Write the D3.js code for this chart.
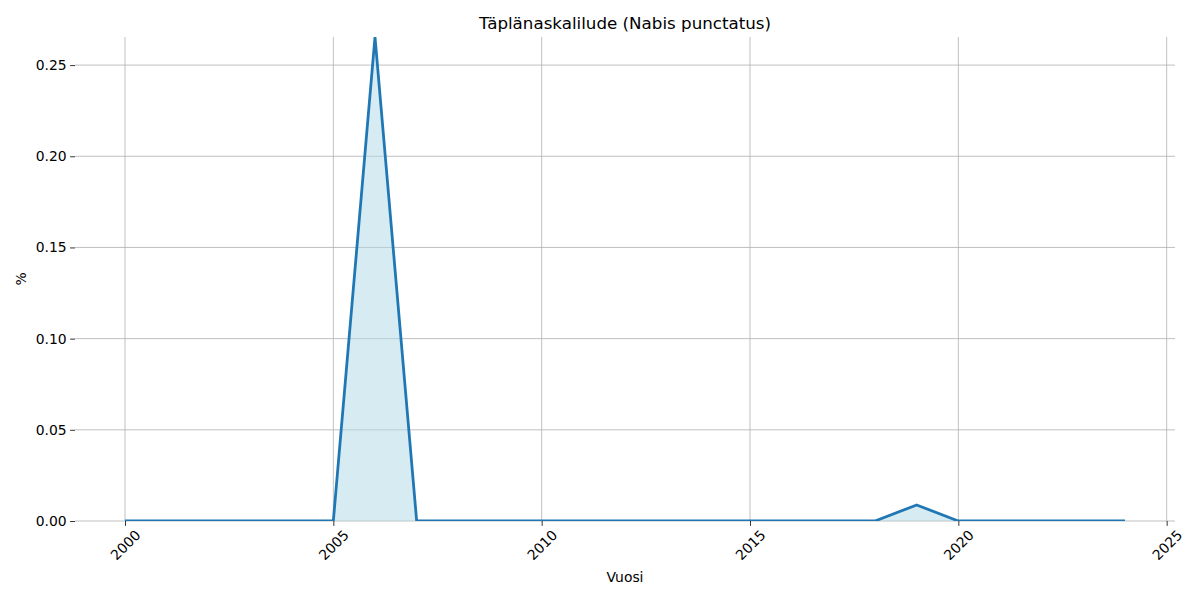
<!DOCTYPE html>
<html><head><meta charset="utf-8">
<script src="https://cdn.jsdelivr.net/npm/d3@7"></script>
<style>body{margin:0;background:#fff;} text{font-family:"DejaVu Sans",sans-serif;}</style>
</head><body>
<svg id="c" width="1200" height="600"></svg>
<script>
const years = [2000,2001,2002,2003,2004,2005,2006,2007,2008,2009,2010,2011,2012,2013,2014,2015,2016,2017,2018,2019,2020,2021,2022,2023,2024];
const values = [0,0,0,0,0,0,0.2654,0,0,0,0,0,0,0,0,0,0,0,0,0.0088,0,0,0,0,0];
const xTicks = [2000,2005,2010,2015,2020,2025];
const yTicks = [0,0.05,0.10,0.15,0.20,0.25];
const title = "Täplänaskalilude (Nabis punctatus)";

const svg = d3.select("#c");
const L=75, R=1175, T=37, B=521;
const x = d3.scaleLinear().domain([1998.8, 2025.2]).range([L,R]);
const y = d3.scaleLinear().domain([0, d3.max(values)]).range([B,T]);
const data = years.map((yr,i)=>({yr, v:values[i]}));

// grid
const g = svg.append("g");
g.selectAll(".gx").data(xTicks).join("line")
  .attr("x1",d=>x(d)).attr("x2",d=>x(d)).attr("y1",T).attr("y2",B)
  .attr("stroke","#b0b0b0").attr("stroke-width",0.8);
g.selectAll(".gy").data(yTicks).join("line")
  .attr("x1",L).attr("x2",R).attr("y1",d=>y(d)).attr("y2",d=>y(d))
  .attr("stroke","#b0b0b0").attr("stroke-width",0.8);

svg.append("defs").append("clipPath").attr("id","clip")
  .append("rect").attr("x",L).attr("y",T).attr("width",R-L).attr("height",B-T);

const plot = svg.append("g").attr("clip-path","url(#clip)");
plot.append("path").datum(data)
  .attr("d", d3.area().x(d=>x(d.yr)).y0(y(0)).y1(d=>y(d.v)))
  .attr("fill","#add8e6").attr("fill-opacity",0.5);
plot.append("path").datum(data)
  .attr("d", d3.line().x(d=>x(d.yr)).y(d=>y(d.v)))
  .attr("fill","none").attr("stroke","#1f77b4").attr("stroke-width",2.78).attr("stroke-linejoin","round");

// x axis
const xa = svg.append("g").attr("transform",`translate(0,${B})`)
  .call(d3.axisBottom(x).tickValues(xTicks).tickFormat(d3.format("d")).tickSize(4.9).tickPadding(3));
xa.select(".domain").remove();
xa.selectAll("line").attr("stroke","#000").attr("stroke-width",0.8);
xa.selectAll("text").attr("font-size","13.9px").attr("fill","#000")
  .attr("text-anchor","middle").attr("dominant-baseline","central")
  .attr("y",0).attr("dy",null)
  .attr("transform","translate(0,24) rotate(-45)");

// y axis
const ya = svg.append("g").attr("transform",`translate(${L},0)`)
  .call(d3.axisLeft(y).tickValues(yTicks).tickFormat(d3.format(".2f")).tickSize(4.9).tickPadding(3.5));
ya.select(".domain").remove();
ya.selectAll("line").attr("stroke","#000").attr("stroke-width",0.8);
ya.selectAll("text").attr("font-size","13.9px").attr("fill","#000");

svg.append("text").attr("x",(L+R)/2).attr("y",29).attr("text-anchor","middle")
  .attr("font-size","16.7px").attr("fill","#000").text(title);
svg.append("text").attr("x",(L+R)/2).attr("y",582).attr("text-anchor","middle")
  .attr("font-size","13.9px").attr("fill","#000").text("Vuosi");
svg.append("text").attr("transform",`translate(26,${(T+B)/2}) rotate(-90)`).attr("text-anchor","middle")
  .attr("font-size","13.9px").attr("fill","#000").text("%");
</script>
</body></html>
